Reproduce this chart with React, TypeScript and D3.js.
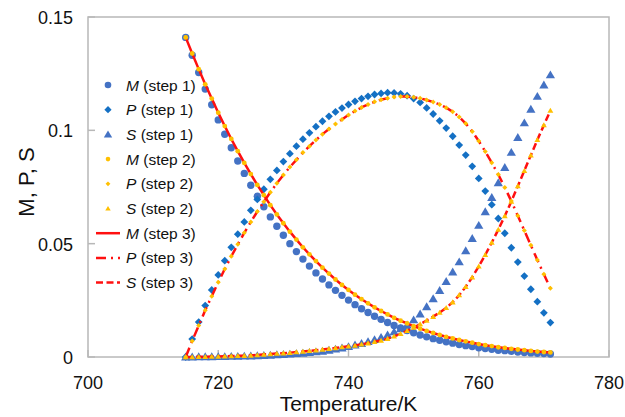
import React from "react";
import * as d3 from "d3";

const temps = [715,716,717,718,719,720,721,722,723,724,725,726,727,728,729,730,731,732,733,734,735,736,737,738,739,740,741,742,743,744,745,746,747,748,749,750,751,752,753,754,755,756,757,758,759,760,761,762,763,764,765,766,767,768,769,770,771];

const mStep1 = [0.1410,0.1331,0.1255,0.1182,0.1113,0.1046,0.0983,0.0923,0.0865,0.0810,0.0758,0.0709,0.0663,0.0618,0.0577,0.0537,0.0500,0.0465,0.0432,0.0401,0.0371,0.0344,0.0318,0.0294,0.0272,0.0251,0.0231,0.0213,0.0196,0.0180,0.0166,0.0152,0.0139,0.0128,0.0117,0.0107,0.0097,0.0089,0.0081,0.0074,0.0067,0.0061,0.0055,0.0050,0.0046,0.0041,0.0037,0.0034,0.0030,0.0028,0.0025,0.0022,0.0020,0.0018,0.0016,0.0015,0.0013];
const pStep1 = [0,0.0079,0.0154,0.0227,0.0296,0.0362,0.0425,0.0484,0.0542,0.0596,0.0647,0.0695,0.0740,0.0784,0.0823,0.0862,0.0897,0.0930,0.0961,0.0989,0.1016,0.1040,0.1062,0.1081,0.1098,0.1114,0.1128,0.1140,0.1150,0.1158,0.1163,0.1166,0.1165,0.1161,0.1153,0.1140,0.1123,0.1099,0.1072,0.1042,0.1010,0.0974,0.0935,0.0891,0.0841,0.0788,0.0732,0.0672,0.0611,0.0546,0.0482,0.0419,0.0357,0.0299,0.0244,0.0195,0.0152];
const sStep1 = [0,0,0.0001,0.0001,0.0001,0.0002,0.0002,0.0003,0.0003,0.0004,0.0005,0.0006,0.0007,0.0008,0.0010,0.0011,0.0013,0.0015,0.0017,0.0020,0.0023,0.0026,0.0030,0.0035,0.0040,0.0046,0.0053,0.0060,0.0068,0.0077,0.0087,0.0098,0.0111,0.0125,0.0142,0.0164,0.0190,0.0222,0.0257,0.0294,0.0333,0.0375,0.0420,0.0469,0.0523,0.0581,0.0641,0.0704,0.0769,0.0836,0.0903,0.0969,0.1033,0.1093,0.1150,0.1200,0.1245];

const mStep2 = [0.1410,0.1339,0.1270,0.1203,0.1140,0.1078,0.1019,0.0962,0.0908,0.0856,0.0807,0.0759,0.0714,0.0670,0.0629,0.0590,0.0553,0.0518,0.0484,0.0453,0.0423,0.0394,0.0368,0.0342,0.0318,0.0296,0.0275,0.0255,0.0237,0.0219,0.0203,0.0188,0.0173,0.0160,0.0148,0.0136,0.0125,0.0115,0.0106,0.0097,0.0089,0.0082,0.0075,0.0069,0.0063,0.0057,0.0052,0.0048,0.0043,0.0040,0.0036,0.0033,0.0030,0.0027,0.0024,0.0022,0.0020];
const pStep2 = [0,0.0071,0.0139,0.0206,0.0268,0.0330,0.0388,0.0444,0.0497,0.0548,0.0596,0.0642,0.0685,0.0727,0.0766,0.0803,0.0838,0.0870,0.0902,0.0930,0.0957,0.0983,0.1006,0.1028,0.1048,0.1068,0.1085,0.1101,0.1114,0.1126,0.1135,0.1142,0.1147,0.1149,0.1149,0.1146,0.1141,0.1134,0.1125,0.1114,0.1100,0.1082,0.1059,0.1030,0.0995,0.0953,0.0907,0.0857,0.0805,0.0748,0.0688,0.0623,0.0558,0.0493,0.0428,0.0365,0.0303];
const sStep2 = [0,0,0.0001,0.0001,0.0002,0.0002,0.0003,0.0004,0.0005,0.0006,0.0007,0.0009,0.0011,0.0013,0.0015,0.0017,0.0019,0.0022,0.0024,0.0027,0.0030,0.0033,0.0036,0.0040,0.0044,0.0047,0.0051,0.0056,0.0061,0.0067,0.0073,0.0081,0.0091,0.0102,0.0116,0.0130,0.0145,0.0161,0.0178,0.0196,0.0217,0.0242,0.0273,0.0310,0.0352,0.0400,0.0451,0.0505,0.0562,0.0622,0.0686,0.0754,0.0822,0.0890,0.0958,0.1023,0.1087];

// step 3 curves coincide with step 2
const mStep3 = mStep2;
const pStep3 = pStep2;
const sStep3 = sStep2;

const xTicks = [700, 720, 740, 760, 780];
const yTicks = [0, 0.05, 0.1, 0.15];
const yTickLabels = ["0", "0.05", "0.1", "0.15"];

const BLUE_C = "#4472c4";
const BLUE_D = "#1470c4";
const GOLD = "#ffc000";
const RED = "#ff1010";
const AXIS = "#b8b8b8";
const FONT = "'Liberation Sans', Arial, Helvetica, sans-serif";

type Shape = "circle" | "diamond" | "triangle";

function markerPath(shape: Shape, r: number): string {
  if (shape === "diamond") return `M0,${-r}L${r},0L0,${r}L${-r},0Z`;
  if (shape === "triangle") return `M0,${-r}L${r * 1.05},${r * 0.8}L${-r * 1.05},${r * 0.8}Z`;
  return "";
}

function Marker({ shape, r, color, x, y }: { shape: Shape; r: number; color: string; x: number; y: number }) {
  if (shape === "circle") return <circle cx={x} cy={y} r={r} fill={color} />;
  return <path d={markerPath(shape, r)} transform={`translate(${x},${y})`} fill={color} />;
}

export default function App() {
  const W = 625, H = 417;
  const left = 88, right = 609, top = 17, bottom = 357;
  const x = d3.scaleLinear().domain([700, 780]).range([left, right]);
  const y = d3.scaleLinear().domain([0, 0.15]).range([bottom, top]);

  const line = (vals: number[]) =>
    d3.line<number>().x((_, i) => x(temps[i])).y((v) => y(v))(vals) || "";

  const markerSeries = [
    { vals: mStep1, shape: "circle" as Shape, r: 3.7, color: BLUE_C },
    { vals: pStep1, shape: "diamond" as Shape, r: 3.9, color: BLUE_D },
    { vals: sStep1, shape: "triangle" as Shape, r: 4.4, color: BLUE_C },
  ];
  const goldSeries = [
    { vals: mStep2, shape: "circle" as Shape, r: 2.4, color: GOLD },
    { vals: pStep2, shape: "diamond" as Shape, r: 2.5, color: GOLD },
    { vals: sStep2, shape: "triangle" as Shape, r: 2.8, color: GOLD },
  ];
  const lineSeries = [
    { vals: mStep3, dash: "" },
    { vals: pStep3, dash: "10,5,2,5" },
    { vals: sStep3, dash: "7,3.5" },
  ];

  const legendItems: { letter: string; step: number; kind: "marker" | "line"; shape?: Shape; r?: number; color?: string; dash?: string }[] = [
    { letter: "M", step: 1, kind: "marker", shape: "circle", r: 3.3, color: BLUE_C },
    { letter: "P", step: 1, kind: "marker", shape: "diamond", r: 3.6, color: BLUE_D },
    { letter: "S", step: 1, kind: "marker", shape: "triangle", r: 4, color: BLUE_C },
    { letter: "M", step: 2, kind: "marker", shape: "circle", r: 2.3, color: GOLD },
    { letter: "P", step: 2, kind: "marker", shape: "diamond", r: 2.4, color: GOLD },
    { letter: "S", step: 2, kind: "marker", shape: "triangle", r: 2.6, color: GOLD },
    { letter: "M", step: 3, kind: "line", dash: "" },
    { letter: "P", step: 3, kind: "line", dash: "10,5,2,5" },
    { letter: "S", step: 3, kind: "line", dash: "7,3.5" },
  ];

  return (
    <svg width={W} height={H} style={{ position: "absolute", left: 0, top: 0, background: "#fff" }} fontFamily={FONT}>
      <rect x={0} y={0} width={W} height={H} fill="#fff" />
      {/* frame */}
      <rect x={left} y={top} width={right - left} height={bottom - top} fill="none" stroke={AXIS} strokeWidth={1.5} />
      {/* y ticks (inward) */}
      {yTicks.map((t, i) => (
        <g key={"yt" + i}>
          <line x1={left} x2={left + 7} y1={y(t)} y2={y(t)} stroke={AXIS} strokeWidth={1.5} />
          <text x={73} y={y(t) + 7} textAnchor="end" fontSize={18} fill="#111">{yTickLabels[i]}</text>
        </g>
      ))}
      {/* x ticks (inward) */}
      {xTicks.map((t, i) => (
        <g key={"xt" + i}>
          <line x1={x(t)} x2={x(t)} y1={bottom} y2={bottom - 7} stroke={AXIS} strokeWidth={1.5} />
          <text x={x(t)} y={389} textAnchor="middle" fontSize={18} fill="#111">{t}</text>
        </g>
      ))}
      <text x={(left + right) / 2} y={411} textAnchor="middle" fontSize={21} fill="#111">Temperature/K</text>
      <text transform={`translate(34,${(top + bottom) / 2 - 5}) rotate(-90)`} textAnchor="middle" fontSize={22} fill="#111">M, P, S</text>

      {/* step 1 markers */}
      {markerSeries.map((s, si) => (
        <g key={"ms" + si}>
          {s.vals.map((v, i) => (
            <Marker key={i} shape={s.shape} r={s.r} color={s.color} x={x(temps[i])} y={y(v)} />
          ))}
        </g>
      ))}
      {/* step 3 lines */}
      {lineSeries.map((s, si) => (
        <path key={"ls" + si} d={line(s.vals)} fill="none" stroke={RED} strokeWidth={2.5} strokeDasharray={s.dash || undefined} />
      ))}
      {/* step 2 markers */}
      {goldSeries.map((s, si) => (
        <g key={"gs" + si}>
          {s.vals.map((v, i) => (
            <Marker key={i} shape={s.shape} r={s.r} color={s.color} x={x(temps[i])} y={y(v)} />
          ))}
        </g>
      ))}

      {/* legend */}
      {legendItems.map((it, i) => {
        const cy = 85 + i * 24.7;
        return (
          <g key={"lg" + i}>
            {it.kind === "marker" ? (
              <Marker shape={it.shape!} r={it.r!} color={it.color!} x={108} y={cy} />
            ) : (
              <line x1={96} x2={120} y1={cy} y2={cy} stroke={RED} strokeWidth={2.5} strokeDasharray={it.dash || undefined} />
            )}
            <text x={126} y={cy + 5.5} fontSize={15.5} fill="#111">
              <tspan fontStyle="italic">{it.letter}</tspan>
              <tspan>{` (step ${it.step})`}</tspan>
            </text>
          </g>
        );
      })}
    </svg>
  );
}
